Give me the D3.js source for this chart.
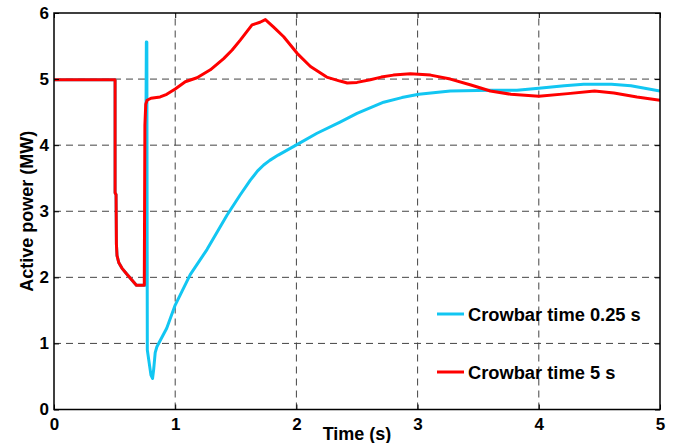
<!DOCTYPE html>
<html>
<head>
<meta charset="utf-8">
<script src="https://cdn.jsdelivr.net/npm/d3@7/dist/d3.min.js"></script>
<style>
  html, body { margin: 0; padding: 0; background: #fff; }
  svg { display: block; }
  text { font-family: "Liberation Sans", Arial, sans-serif; font-weight: bold; fill: #000; }
</style>
</head>
<body>
<svg id="chart" width="690" height="443"></svg>
<script>
// Active power response for two crowbar durations (time in s, power in MW)
const xTicks = [0, 1, 2, 3, 4, 5];
const yTicks = [0, 1, 2, 3, 4, 5, 6];

const seriesNames = ["Crowbar time 0.25 s", "Crowbar time 5 s"];
const seriesColors = ["#12c6f2", "#ff0000"];

// Crowbar time 0.25 s
const crowbar025 = [
  [0, 4.99], [0.504, 4.99], [0.504, 3.28], [0.512, 3.25], [0.515, 2.5], [0.52, 2.33],
  [0.535, 2.22], [0.56, 2.14], [0.60, 2.05], [0.68, 1.88], [0.745, 1.88], [0.752, 1.88],
  [0.762, 5.56], [0.766, 5.56], [0.770, 0.9], [0.80, 0.52], [0.813, 0.47], [0.822, 0.6],
  [0.835, 0.86], [0.849, 0.95], [0.93, 1.23], [1.0, 1.58], [1.124, 2.04], [1.262, 2.42],
  [1.427, 2.94], [1.537, 3.25], [1.62, 3.47], [1.68, 3.61], [1.73, 3.70], [1.78, 3.77],
  [1.85, 3.85], [1.997, 4.0], [2.17, 4.18], [2.36, 4.35], [2.50, 4.48], [2.72, 4.65],
  [2.87, 4.72], [3.01, 4.77], [3.27, 4.82], [3.60, 4.83], [3.82, 4.83], [4.0, 4.86],
  [4.21, 4.90], [4.37, 4.92], [4.6, 4.92], [4.76, 4.90], [5.0, 4.82]
];

// Crowbar time 5 s
const crowbar5 = [
  [0, 4.99], [0.504, 4.99], [0.504, 3.28], [0.512, 3.25], [0.515, 2.5], [0.52, 2.33],
  [0.535, 2.22], [0.56, 2.14], [0.60, 2.05], [0.68, 1.88], [0.745, 1.88], [0.750, 4.3],
  [0.757, 4.62], [0.768, 4.68], [0.80, 4.71], [0.876, 4.73], [0.93, 4.77], [1.0, 4.85],
  [1.083, 4.96], [1.18, 5.02], [1.29, 5.14], [1.40, 5.31], [1.47, 5.44], [1.537, 5.59],
  [1.634, 5.82], [1.70, 5.86], [1.744, 5.90], [1.81, 5.79], [1.895, 5.64], [2.006, 5.39],
  [2.116, 5.19], [2.25, 5.03], [2.36, 4.97], [2.42, 4.94], [2.50, 4.95], [2.61, 4.99],
  [2.70, 5.03], [2.80, 5.06], [2.94, 5.08], [3.107, 5.06], [3.27, 5.0], [3.44, 4.91],
  [3.60, 4.82], [3.77, 4.77], [4.0, 4.74], [4.24, 4.78], [4.46, 4.82], [4.62, 4.79],
  [4.81, 4.73], [5.0, 4.68]
];

const svg = d3.select("#chart");
const margin = { left: 54, top: 13, right: 30, bottom: 33.5 };
const W = 690, H = 443;
const x0 = margin.left, x1 = W - margin.right;
const y0 = H - margin.bottom, y1 = margin.top;

const x = d3.scaleLinear().domain([0, 5]).range([x0, x1]);
const y = d3.scaleLinear().domain([0, 6]).range([y0, y1]);

// dashed grid
const grid = svg.append("g").attr("stroke", "#444").attr("stroke-width", 1)
  .attr("stroke-dasharray", "7,5");
grid.selectAll("line.v").data(xTicks.slice(1, -1)).join("line")
  .attr("x1", d => x(d)).attr("x2", d => x(d)).attr("y1", y0).attr("y2", y1);
grid.selectAll("line.h").data(yTicks.slice(1, -1)).join("line")
  .attr("x1", x0).attr("x2", x1).attr("y1", d => y(d)).attr("y2", d => y(d));

// curves
svg.append("defs").append("clipPath").attr("id", "plotClip")
  .append("rect").attr("x", x0).attr("y", y1).attr("width", x1 - x0).attr("height", y0 - y1);

const line = d3.line().x(d => x(d[0])).y(d => y(d[1]));
const plot = svg.append("g").attr("clip-path", "url(#plotClip)");
[crowbar025, crowbar5].forEach((s, i) => {
  plot.append("path").datum(s).attr("d", line)
    .attr("fill", "none").attr("stroke", seriesColors[i])
    .attr("stroke-width", 3).attr("stroke-linejoin", "round");
});

// axes with inward ticks on all four sides
const tickLen = 5;
const axB = svg.append("g").attr("transform", `translate(0,${y0})`)
  .call(d3.axisBottom(x).tickValues(xTicks).tickSize(-tickLen).tickPadding(8).tickFormat(d3.format("d")));
const axT = svg.append("g").attr("transform", `translate(0,${y1})`)
  .call(d3.axisTop(x).tickValues(xTicks).tickSize(-tickLen).tickFormat(""));
const axL = svg.append("g").attr("transform", `translate(${x0},0)`)
  .call(d3.axisLeft(y).tickValues(yTicks).tickSize(-tickLen).tickPadding(5).tickFormat(d3.format("d")));
const axR = svg.append("g").attr("transform", `translate(${x1},0)`)
  .call(d3.axisRight(y).tickValues(yTicks).tickSize(-tickLen).tickFormat(""));
[axB, axT, axL, axR].forEach(a => {
  a.select(".domain").remove();
  a.selectAll(".tick line").attr("stroke", "#000").attr("stroke-width", 1);
  a.selectAll("text").attr("font-size", 17).attr("font-weight", "bold")
    .attr("font-family", "'Liberation Sans', Arial, sans-serif").attr("fill", "#000");
});
axB.selectAll("text").attr("dy", "0.71em");

svg.append("rect").attr("x", x0).attr("y", y1).attr("width", x1 - x0).attr("height", y0 - y1)
  .attr("fill", "none").attr("stroke", "#000").attr("stroke-width", 1.5);

// axis titles
svg.append("text").attr("x", (x0 + x1) / 2).attr("y", 440).attr("text-anchor", "middle")
  .attr("font-size", 18).text("Time (s)");
svg.append("text").attr("transform", `translate(33,${(y0 + y1) / 2}) rotate(-90)`)
  .attr("text-anchor", "middle").attr("font-size", 18).text("Active power (MW)");

// legend
const legend = svg.append("g");
const legendRows = [314, 372];
seriesNames.forEach((name, i) => {
  legend.append("line").attr("x1", 437).attr("x2", 464)
    .attr("y1", legendRows[i]).attr("y2", legendRows[i])
    .attr("stroke", seriesColors[i]).attr("stroke-width", 3);
  legend.append("text").attr("x", 468).attr("y", legendRows[i] + 7)
    .attr("font-size", 18.3).text(name);
});
</script>
</body>
</html>
